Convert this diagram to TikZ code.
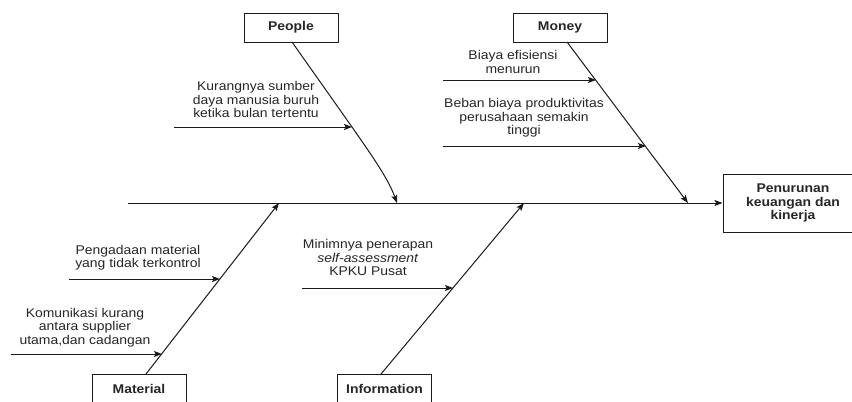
\documentclass[tikz,border=0pt]{standalone}
\usepackage{fontspec}
\setmainfont{Liberation Sans}[FakeStretch=1.1]
\usetikzlibrary{arrows.meta}
\definecolor{txt}{HTML}{262626}
\definecolor{ln}{HTML}{1A1A1A}
\begin{document}
\begin{tikzpicture}[x=0.75pt,y=-0.75pt,
  every node/.style={font=\fontsize{9.5}{10.1}\selectfont, text=txt},
  catbox/.style={draw=ln, line width=0.75pt, inner sep=0pt, minimum width=70.5pt, minimum height=21.75pt, font=\fontsize{9.5}{10.1}\selectfont\bfseries},
  effbox/.style={draw=ln, line width=0.75pt, inner sep=0pt, minimum width=105pt, minimum height=43.5pt, align=center, font=\fontsize{9.5}{10.1}\selectfont\bfseries},
  causetxt/.style={align=center, inner sep=0pt},
  bone/.style={draw=ln, line width=0.75pt, -{Stealth[length=6pt,width=4.5pt,inset=1.2pt]}}
]
\useasboundingbox (0,0) rectangle (852,401);

% category boxes
\node[catbox] (people) at (291,27.5) {People};
\node[catbox] (money) at (560,27.5) {Money};
\node[catbox] (material) at (139,388.5) {Material};
\node[catbox] (info) at (384.5,388.5) {Information};
\node[effbox] (effect) at (793,203) {Penurunan\\keuangan dan\\kinerja};

% spine
\coordinate (spstart) at (128,203);
\draw[bone] (spstart) -- (effect.west);

% bone anchor points
\coordinate (pS) at (292,42);
\coordinate (pM) at (352,127);
\coordinate (pE) at (397,203);
\coordinate (mS) at (567,42);
\coordinate (mE) at (688,203);
\coordinate (maS) at (146,374);
\coordinate (maE) at (279,203);
\coordinate (iS) at (381,374);
\coordinate (iE) at (524,203);

% bones
\draw[bone] (pS) -- (pM) .. controls (370,153) and (388,178) .. (pE);
\draw[bone] (mS) -- (mE);
\draw[bone] (maS) -- (maE);
\draw[bone] (iS) -- (iE);

% cause arrows
\coordinate (k1s) at (174,127);
\coordinate (b1s) at (443,80);   \coordinate (b1e) at (596,80);
\coordinate (b2s) at (443,146);  \coordinate (b2e) at (646,146);
\coordinate (p1s) at (69,279);   \coordinate (p1e) at (220,279);
\coordinate (p2s) at (11,354);   \coordinate (p2e) at (162,354);
\coordinate (m1s) at (302,288);  \coordinate (m1e) at (453,288);

\draw[bone] (k1s) -- (pM);
\draw[bone] (b1s) -- (b1e);
\draw[bone] (b2s) -- (b2e);
\draw[bone] (p1s) -- (p1e);
\draw[bone] (p2s) -- (p2e);
\draw[bone] (m1s) -- (m1e);

% cause texts
\node[causetxt] (t1) at (256,99.5) {Kurangnya sumber\\daya manusia buruh\\ketika bulan tertentu};
\node[causetxt] (t2) at (513,62) {Biaya efisiensi\\menurun};
\node[causetxt] (t3) at (524,118) {Beban biaya produktivitas\\perusahaan semakin\\tinggi};
\node[causetxt] (t4) at (138,257.5) {Pengadaan material\\yang tidak terkontrol};
\node[causetxt] (t5) at (85,327.5) {Komunikasi kurang\\antara supplier\\utama,dan cadangan};
\node[causetxt] (t6) at (368,257.5) {Minimnya penerapan\\\textit{self-assessment}\\KPKU Pusat};
\end{tikzpicture}
\end{document}
